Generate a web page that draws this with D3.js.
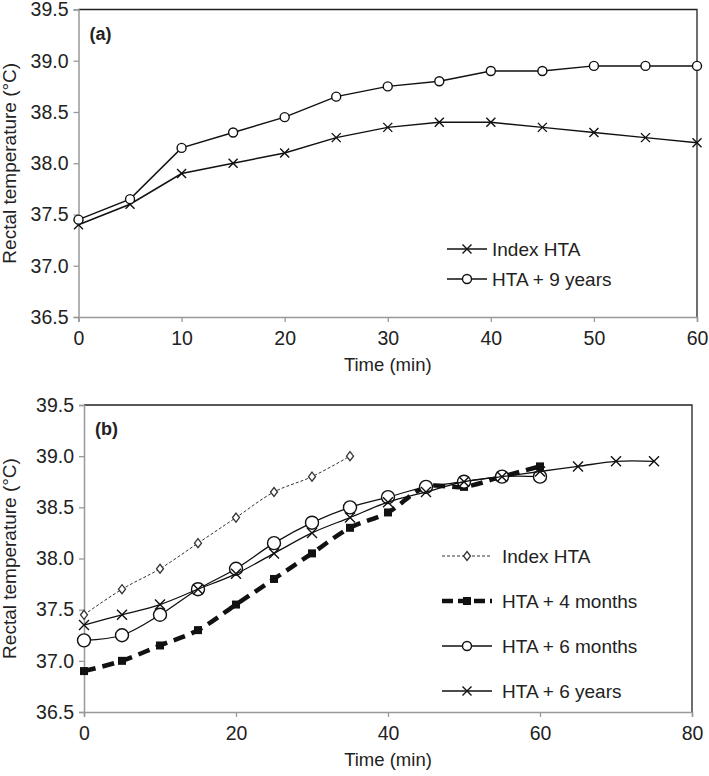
<!DOCTYPE html>
<html lang="en"><head><meta charset="utf-8">
<title>Rectal temperature</title>
<script src="https://cdn.jsdelivr.net/npm/d3@7"></script>
<style>
  body { margin: 0; background: #fff; }
  text { font-family: "Liberation Sans", Arial, sans-serif; fill: #222; }
</style>
</head>
<body>
<script>
// panel (a)
var timeA = [0, 5, 10, 15, 20, 25, 30, 35, 40, 45, 50, 55, 60];
var indexHtaA = [37.4, 37.6, 37.9, 38.0, 38.1, 38.25, 38.35, 38.4, 38.4, 38.35, 38.3, 38.25, 38.2];
var nineYearsA = [37.45, 37.65, 38.15, 38.3, 38.45, 38.65, 38.75, 38.8, 38.9, 38.9, 38.95, 38.95, 38.95];

// panel (b)
var timeIndexB = [0, 5, 10, 15, 20, 25, 30, 35];
var indexHtaB = [37.45, 37.7, 37.9, 38.15, 38.4, 38.65, 38.8, 39.0];
var timeMonthsB = [0, 5, 10, 15, 20, 25, 30, 35, 40, 45, 50, 55, 60];
var fourMonthsB = [36.9, 37.0, 37.15, 37.3, 37.55, 37.8, 38.05, 38.3, 38.45, 38.7, 38.7, 38.8, 38.9];
var sixMonthsB = [37.2, 37.25, 37.45, 37.7, 37.9, 38.15, 38.35, 38.5, 38.6, 38.7, 38.75, 38.8, 38.8];
var timeYearsB = [0, 5, 10, 15, 20, 25, 30, 35, 40, 45, 50, 55, 60, 65, 70, 75];
var sixYearsB = [37.35, 37.45, 37.55, 37.7, 37.85, 38.05, 38.25, 38.4, 38.55, 38.65, 38.75, 38.8, 38.85, 38.9, 38.95, 38.95];

var yTicks = [36.5, 37.0, 37.5, 38.0, 38.5, 39.0, 39.5];
var xTicksA = [0, 10, 20, 30, 40, 50, 60];
var xTicksB = [0, 20, 40, 60, 80];

function zip(xs, ys) {
  return xs.map(function(x, i) { return {t: x, v: ys[i]}; });
}

var svg = d3.select("body").append("svg")
  .attr("width", 709)
  .attr("height", 776);

function marker(g, type, x, y, big) {
  if (type == "cross") {
    var s = big ? 5 : 4.5;
    g.append("path")
      .attr("d", "M" + (x - s) + "," + (y - s) + "L" + (x + s) + "," + (y + s) +
                 "M" + (x - s) + "," + (y + s) + "L" + (x + s) + "," + (y - s))
      .attr("stroke", "#111").attr("stroke-width", 1.4).attr("fill", "none");
  } else if (type == "circle") {
    g.append("circle").attr("cx", x).attr("cy", y).attr("r", big ? 6.5 : 4.5)
      .attr("fill", "#fff").attr("stroke", "#111").attr("stroke-width", 1.4);
  } else if (type == "diamond") {
    g.append("path")
      .attr("d", "M" + x + "," + (y - 4.5) + "L" + (x + 3.5) + "," + y + "L" + x + "," + (y + 4.5) + "L" + (x - 3.5) + "," + y + "Z")
      .attr("fill", "#fff").attr("stroke", "#333").attr("stroke-width", 1.3);
  } else if (type == "square") {
    g.append("rect").attr("x", x - 4).attr("y", y - 4).attr("width", 8).attr("height", 8)
      .attr("fill", "#111");
  }
}

function drawPanel(p) {
  var x = d3.scaleLinear().domain(p.xDomain).range([p.left, p.right]);
  var y = d3.scaleLinear().domain([36.5, 39.5]).range([p.bottom, p.top]);
  var g = svg.append("g");

  // frame: top and right borders are black
  g.append("path")
    .attr("d", "M" + p.left + "," + p.top + "H" + p.right + "V" + p.bottom)
    .attr("fill", "none").attr("stroke", "#222").attr("stroke-width", 1.3);

  g.append("g")
    .attr("transform", "translate(0," + p.bottom + ")")
    .call(d3.axisBottom(x).tickValues(p.xTicks).tickSize(5).tickPadding(9).tickFormat(d3.format("d")));
  g.append("g")
    .attr("transform", "translate(" + p.left + ",0)")
    .call(d3.axisLeft(y).tickValues(yTicks).tickSize(5).tickPadding(5).tickFormat(d3.format(".1f")));

  g.selectAll(".domain").attr("stroke", "#999").attr("stroke-width", 1.5);
  g.selectAll(".tick line").attr("stroke", "#999").attr("stroke-width", 1.3);
  g.selectAll(".tick text").attr("font-size", 19.5).attr("fill", "#222")
    .style("font-family", "'Liberation Sans', Arial, sans-serif");

  g.append("text")
    .attr("x", (p.left + p.right) / 2)
    .attr("y", p.bottom + 54)
    .attr("text-anchor", "middle")
    .attr("font-size", 18.5)
    .text("Time (min)");

  g.append("text")
    .attr("transform", "translate(16," + ((p.top + p.bottom) / 2) + ") rotate(-90)")
    .attr("text-anchor", "middle")
    .attr("font-size", 19)
    .text("Rectal temperature (°C)");

  g.append("text")
    .attr("x", p.left + 11)
    .attr("y", p.top + 30)
    .attr("font-size", 18)
    .attr("font-weight", "bold")
    .text(p.label);

  p.series.forEach(function(s) {
    var data = zip(s.t, s.v);
    var line = d3.line()
      .x(function(d) { return x(d.t); })
      .y(function(d) { return y(d.v); })
      .curve(s.curve);
    g.append("path")
      .datum(data)
      .attr("d", line)
      .attr("fill", "none")
      .attr("stroke", s.stroke)
      .attr("stroke-width", s.width)
      .attr("stroke-dasharray", s.dash);
    var mg = g.append("g");
    data.forEach(function(d) { marker(mg, s.marker, x(d.t), y(d.v), s.big); });
  });

  // legend
  p.series.forEach(function(s, i) {
    var ly = p.legendY + i * p.legendGap;
    g.append("line")
      .attr("x1", p.legendX).attr("x2", p.legendX + p.legendLen)
      .attr("y1", ly).attr("y2", ly)
      .attr("stroke", s.stroke).attr("stroke-width", s.width)
      .attr("stroke-dasharray", s.legendDash || s.dash);
    marker(g, s.marker, p.legendX + p.legendLen / 2, ly, false);
    g.append("text")
      .attr("x", p.legendX + p.legendLen + p.textGap)
      .attr("y", ly + 7)
      .attr("font-size", 19)
      .text(s.name);
  });
}

drawPanel({
  label: "(a)",
  xDomain: [0, 60], xTicks: xTicksA,
  left: 78.5, right: 697, top: 9.5, bottom: 317,
  legendX: 447, legendLen: 40, textGap: 5, legendY: 249, legendGap: 30,
  series: [
    {name: "Index HTA", t: timeA, v: indexHtaA, marker: "cross", stroke: "#111", width: 1.5, dash: null, curve: d3.curveLinear},
    {name: "HTA + 9 years", t: timeA, v: nineYearsA, marker: "circle", stroke: "#111", width: 1.5, dash: null, curve: d3.curveLinear}
  ]
});

drawPanel({
  label: "(b)",
  xDomain: [0, 80], xTicks: xTicksB,
  left: 84, right: 692, top: 405, bottom: 712,
  legendX: 442, legendLen: 50, textGap: 10, legendY: 556, legendGap: 45,
  series: [
    {name: "Index HTA", t: timeIndexB, v: indexHtaB, marker: "diamond", stroke: "#333", width: 1, dash: "3,2", curve: d3.curveCatmullRom},
    {name: "HTA + 4 months", t: timeMonthsB, v: fourMonthsB, marker: "square", stroke: "#111", width: 4.5, dash: "12,7", legendDash: "11,5", curve: d3.curveCatmullRom},
    {name: "HTA + 6 months", t: timeMonthsB, v: sixMonthsB, marker: "circle", stroke: "#111", width: 1.3, dash: null, big: true, curve: d3.curveCatmullRom},
    {name: "HTA + 6 years", t: timeYearsB, v: sixYearsB, marker: "cross", stroke: "#111", width: 1.3, dash: null, big: true, curve: d3.curveCatmullRom}
  ]
});
</script>
</body></html>
